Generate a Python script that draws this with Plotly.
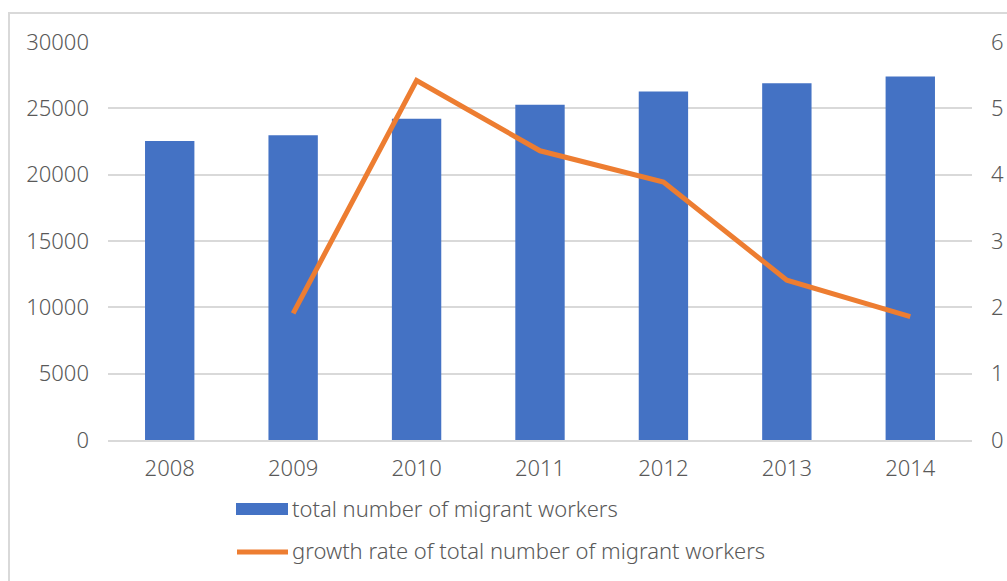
import plotly.graph_objects as go

years = ["2008", "2009", "2010", "2011", "2012", "2013", "2014"]
total_workers = [22542, 22978, 24223, 25278, 26261, 26894, 27395]
growth_rate = [None, 1.91, 5.42, 4.36, 3.89, 2.41, 1.86]
left_ticks = [0, 5000, 10000, 15000, 20000, 25000, 30000]
right_ticks = [0, 1, 2, 3, 4, 5, 6]
bar_name = "total number of migrant workers"
line_name = "growth rate of total number of migrant workers"

BLUE = "#4472C4"
ORANGE = "#ED7D31"
GRID = "#D9D9D9"
TXT = "#595959"
FONT = "Noto Sans"
FS = 22
FW = 300

fig = go.Figure()
fig.add_trace(go.Bar(x=years, y=total_workers, name=bar_name, marker_color=BLUE,
                     marker_line_width=0, yaxis="y"))
fig.add_trace(go.Scatter(x=years, y=growth_rate, name=line_name, mode="lines",
                         line=dict(color=ORANGE, width=5), yaxis="y2"))

W, H = 1007, 581
PL, PR, PT, PB = 108, 972, 42, 440  # plot area in px
L, R, T, B = PL, W - PR, PT, H - PB
pw, ph = PR - PL, PB - PT

def px(x):
    return (x - PL) / pw

def py(y):
    return (PB - y) / ph

fnt = dict(family=FONT, size=FS, color=TXT, weight=FW)

shapes = [
    dict(type="rect", xref="paper", yref="paper", x0=px(9), x1=px(1030), y0=py(600), y1=py(13),
         line=dict(color=GRID, width=2), fillcolor="rgba(0,0,0,0)", layer="below"),
    dict(type="rect", xref="paper", yref="paper", x0=px(236), x1=px(288), y0=py(515), y1=py(503),
         line=dict(width=0), fillcolor=BLUE),
    dict(type="line", xref="paper", yref="paper", x0=px(237), x1=px(288), y0=py(552), y1=py(552),
         line=dict(color=ORANGE, width=5)),
]
annotations = [
    dict(xref="paper", yref="paper", x=px(290), y=py(508), text=bar_name, showarrow=False,
         xanchor="left", yanchor="middle", font=fnt),
    dict(xref="paper", yref="paper", x=px(290), y=py(550), text=line_name, showarrow=False,
         xanchor="left", yanchor="middle", font=fnt),
]

fig.update_layout(
    width=W, height=H,
    margin=dict(l=L, r=R, t=T, b=B, pad=0),
    paper_bgcolor="white", plot_bgcolor="white",
    font=fnt,
    showlegend=False,
    bargap=0.6,
    shapes=shapes,
    annotations=annotations,
    xaxis=dict(type="category", showgrid=False, showline=True, linecolor=GRID, linewidth=2,
               ticks="", ticklabelstandoff=8, tickfont=fnt, automargin=False),
    yaxis=dict(range=[0, 30000], tickvals=left_ticks, tickformat="d", showgrid=True,
               gridcolor=GRID, gridwidth=2, zeroline=False, showline=False, ticks="",
               ticklabelstandoff=18, tickfont=fnt, automargin=False),
    yaxis2=dict(range=[0, 6], tickvals=right_ticks, tickformat="d", overlaying="y", side="right",
                showgrid=False, zeroline=False, showline=False, ticks="", ticklabelstandoff=18,
                tickfont=fnt, automargin=False),
)

fig.write_html("out.html", config={"displayModeBar": False},
               post_script="document.body.style.margin='0px';")
